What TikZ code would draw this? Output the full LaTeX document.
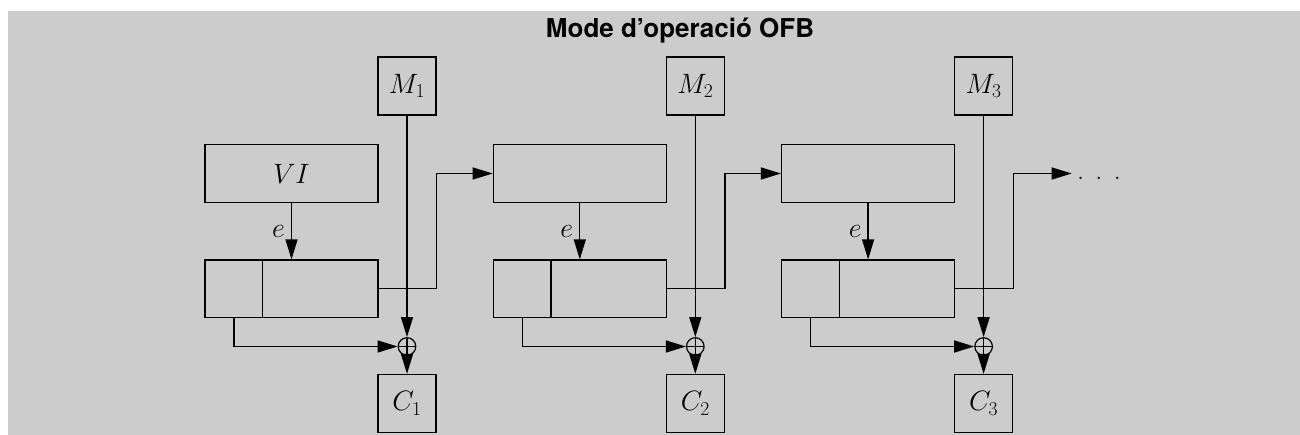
\RequirePackage{fix-cm}
\documentclass[tikz,border=0pt]{standalone}
\usepackage{fontspec}
\newfontfamily\titlefont{TeX Gyre Heros}
\usetikzlibrary{arrows.meta}
\definecolor{bg}{RGB}{204,204,204}
\tikzset{
  box/.style={draw, line width=1.3pt, inner sep=0pt, fill=none},
  sq/.style={box, minimum width=58pt, minimum height=58pt},
  wide/.style={box, minimum width=173pt, minimum height=57.5pt},
  cell/.style={box, minimum width=57.7pt, minimum height=57.5pt, anchor=west},
  xorc/.style={draw, line width=1.2pt, circle, minimum size=17.6pt, inner sep=0pt,
    path picture={\draw[line width=1.2pt] (path picture bounding box.north) -- (path picture bounding box.south)
      (path picture bounding box.west) -- (path picture bounding box.east);}},
  con/.style={line width=1.3pt, -{Triangle[length=20pt,width=12pt]}},
}
\begin{document}
\begin{tikzpicture}[x=1pt,y=-1pt, font=\fontsize{28}{33}\selectfont]
\useasboundingbox (0,0) rectangle (1300,435);
\fill[white] (0,0) rectangle (1300,435);
\fill[bg] (8,11) rectangle (1300,435);
\node[anchor=base, font=\titlefont\bfseries\fontsize{26}{30}\selectfont] (title) at (680,38) {Mode d’operació OFB};
\foreach \i/\dx in {1/0, 2/288.3, 3/576.6} {
  \node[sq] (M\i) at (407+\dx, 86) {$M_\i$};
  \node[wide] (T\i) at (291.5+\dx, 173.5) {};
  \node[wide] (R\i) at (291.5+\dx, 288.8) {};
  \node[cell] (L\i) at (R\i.west) {};
  \node[xorc] (X\i) at (407+\dx, 346.5) {};
  \node[sq] (C\i) at (407+\dx, 403.5) {$C_\i$};
  \draw[con] (M\i.south) -- (X\i.north);
  \draw[con] (X\i.south) -- (C\i.north);
  \draw[con] (T\i.south) -- node[left, inner sep=6pt] {$e$} (R\i.north);
  \draw[con] (L\i.south) |- (X\i.west);
}
\node at (T1) {$VI$};
\coordinate (E) at (1071.7,173.5);
\node[anchor=base west, inner sep=0pt] (dots) at (1077,180) {. . .};
\draw[con] (R1.east) -| (M1.east |- T1) -- (T2.west);
\draw[con] (R2.east) -| (M2.east |- T2) -- (T3.west);
\draw[con] (R3.east) -| (M3.east |- T3) -- (E);
\end{tikzpicture}
\end{document}
